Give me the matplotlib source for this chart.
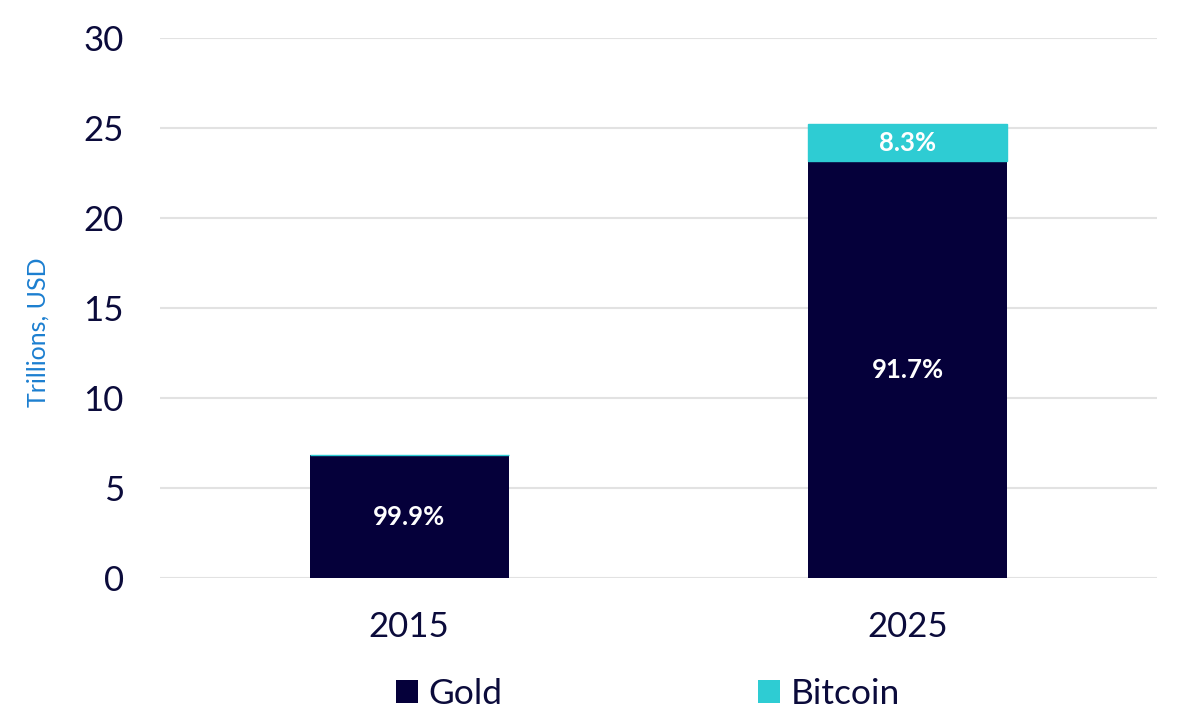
import matplotlib
matplotlib.use("Agg")
import matplotlib.pyplot as plt
from matplotlib.patches import Patch

plt.rcParams['font.family'] = ['Lato', 'DejaVu Sans']

# data (trillions USD)
years = ['2015', '2025']
gold = [6.83, 23.15]
bitcoin = [0.007, 2.08]
gold_labels = ['99.9%', '91.7%']
bitcoin_labels = ['', '8.3%']

navy = '#05003A'
teal = '#2ECCD3'
text_col = '#0B0B3B'

fig = plt.figure(figsize=(12, 7.17), dpi=100)
ax = fig.add_axes([0.1333, 0.1939, 0.8308, 0.7531])

x = range(len(years))
ax.bar(x, gold, width=0.4, color=navy, zorder=3)
# thin edge so the tiny 2015 bitcoin slice still shows as a line
ax.bar(x, bitcoin, width=0.4, bottom=gold, color=teal, edgecolor=teal,
       linewidth=1, zorder=3)

for i in x:
    ax.text(i, gold[i] / 2, gold_labels[i], ha='center', va='center',
            color='white', fontsize=18.5, fontweight='bold', zorder=4)
    if bitcoin_labels[i]:
        ax.text(i, gold[i] + bitcoin[i] / 2, bitcoin_labels[i], ha='center',
                va='center', color='white', fontsize=18.5, fontweight='bold', zorder=4)

ax.set_xlim(-0.5, 1.5)
ax.set_ylim(0, 30)
ax.set_yticks(range(0, 31, 5))
ax.set_xticks(list(x))
ax.set_xticklabels(years)
ax.tick_params(axis='y', length=0, pad=26, labelsize=25, labelcolor=text_col)
ax.tick_params(axis='x', length=0, pad=24, labelsize=25, labelcolor=text_col)
ax.grid(axis='y', color='#E2E2E2', linewidth=1.5, zorder=0)
for s in ax.spines.values():
    s.set_visible(False)

ax.set_ylabel('Trillions, USD', color='#1C7FD0', fontsize=18, labelpad=24, y=0.455)

handles = [Patch(facecolor=navy, label='Gold'), Patch(facecolor=teal, label='Bitcoin')]
leg = fig.legend(handles=handles, loc='center', bbox_to_anchor=(0.54, 0.032), ncol=2,
                 frameon=False, fontsize=25.5, handlelength=0.62, handleheight=0.62,
                 handletextpad=0.31, columnspacing=7.2, borderpad=0, borderaxespad=0)
for t in leg.get_texts():
    t.set_color(text_col)

fig.savefig('out.png', dpi=100)
